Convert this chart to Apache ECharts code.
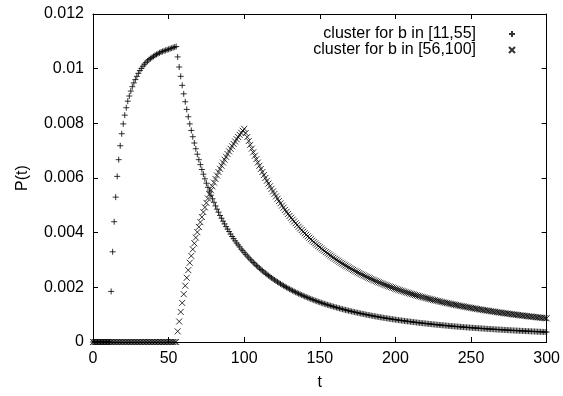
<!DOCTYPE html>
<html><head><meta charset="utf-8">
<script src="https://cdn.jsdelivr.net/npm/echarts@6/dist/echarts.min.js"></script>
<style>html,body{margin:0;padding:0;background:#fff}#c{width:563px;height:396px}</style>
</head><body><div id="c"></div>
<script>
const seriesNames = ['cluster for b in [11,55]', 'cluster for b in [56,100]'];
const xTickValues = [0, 50, 100, 150, 200, 250, 300];
const yTickValues = [0, 0.002, 0.004, 0.006, 0.008, 0.01, 0.012];
const xLabel = 't';
const yLabel = 'P(t)';

// P(t) for cluster b in [11,55], t = 0..300 (one value per integer t)
const plusValues = [
  0,0,0,0,0,0,0,0,0,0,                                   // 0-9
  0,0,0.00185,0.0033,0.0044,0.0053,0.00606,0.00667,0.00718,0.00762, // 10-19
  0.00798,0.0083,0.00857,0.00881,0.009,0.00918,0.00934,0.00948,0.0096,0.00972, // 20-29
  0.00983,0.00993,0.01001,0.01009,0.01016,0.01022,0.01028,0.01033,0.01037,0.01041, // 30-39
  0.01045,0.01049,0.01052,0.01055,0.01058,0.01061,0.01063,0.01065,0.01067,0.01069, // 40-49
  0.01071,0.01073,0.01075,0.01077,0.01079,0.01081,0.01043,0.01006,0.00972,0.00939, // 50-59
  0.00908,0.00879,0.00851,0.00824,0.00798,0.00774,0.00751,0.00728,0.00707,0.00687, // 60-69
  0.00667,0.00649,0.00631,0.00614,0.00597,0.00581,0.00566,0.00552,0.00537,0.00524, // 70-79
  0.00511,0.00498,0.00486,0.00475,0.00463,0.00453,0.00442,0.00432,0.00422,0.00413, // 80-89
  0.00404,0.00395,0.00386,0.00378,0.0037,0.00362,0.00355,0.00348,0.0034,0.00334,   // 90-99
  0.00327,0.003206,0.003143,0.003082,0.003023,0.002966,0.00291,0.002856,0.002804,0.002752, // 100-109
  0.002703,0.002654,0.002607,0.002561,0.002516,0.002473,0.00243,0.002389,0.002348,0.002309, // 110-119
  0.002271,0.002233,0.002197,0.002161,0.002127,0.002093,0.00206,0.002027,0.001996,0.001965, // 120-129
  0.001935,0.001906,0.001877,0.001849,0.001821,0.001794,0.001768,0.001742,0.001717,0.001693, // 130-139
  0.001668,0.001645,0.001622,0.001599,0.001577,0.001555,0.001534,0.001513,0.001493,0.001473, // 140-149
  0.001453,0.001434,0.001415,0.001397,0.001379,0.001361,0.001344,0.001327,0.00131,0.001294, // 150-159
  0.001277,0.001262,0.001246,0.001231,0.001216,0.001201,0.001187,0.001173,0.001159,0.001145, // 160-169
  0.001132,0.001118,0.001105,0.001093,0.00108,0.001068,0.001056,0.001044,0.001032,0.001021, // 170-179
  0.001009,0.000998,0.000987,0.000977,0.000966,0.000955,0.000945,0.000935,0.000925,0.000915, // 180-189
  0.000906,0.000896,0.000887,0.000878,0.000869,0.00086,0.000851,0.000843,0.000834,0.000826, // 190-199
  0.000818,0.000809,0.000801,0.000794,0.000786,0.000778,0.000771,0.000763,0.000756,0.000749, // 200-209
  0.000742,0.000735,0.000728,0.000721,0.000714,0.000707,0.000701,0.000694,0.000688,0.000682, // 210-219
  0.000676,0.00067,0.000664,0.000658,0.000652,0.000646,0.00064,0.000635,0.000629,0.000624, // 220-229
  0.000618,0.000613,0.000608,0.000602,0.000597,0.000592,0.000587,0.000582,0.000577,0.000573, // 230-239
  0.000568,0.000563,0.000558,0.000554,0.000549,0.000545,0.00054,0.000536,0.000532,0.000527, // 240-249
  0.000523,0.000519,0.000515,0.000511,0.000507,0.000503,0.000499,0.000495,0.000491,0.000488, // 250-259
  0.000484,0.00048,0.000476,0.000473,0.000469,0.000466,0.000462,0.000459,0.000455,0.000452, // 260-269
  0.000449,0.000445,0.000442,0.000439,0.000436,0.000432,0.000429,0.000426,0.000423,0.00042, // 270-279
  0.000417,0.000414,0.000411,0.000408,0.000405,0.000403,0.0004,0.000397,0.000394,0.000392, // 280-289
  0.000389,0.000386,0.000384,0.000381,0.000378,0.000376,0.000373,0.000371,0.000368,0.000366, // 290-299
  0.000363 // 300
];

// P(t) for cluster b in [56,100], t = 0..300
const crossValues = [
  0,0,0,0,0,0,0,0,0,0, 0,0,0,0,0,0,0,0,0,0,             // 0-19
  0,0,0,0,0,0,0,0,0,0, 0,0,0,0,0,0,0,0,0,0,             // 20-39
  0,0,0,0,0,0,0,0,0,0, 0,0,0,0,0,0,0.00039,0.00075,0.0011,0.00143, // 40-59
  0.00175,0.00206,0.00235,0.00263,0.0029,0.00315,0.00339,0.00361,0.00382,0.00402, // 60-69
  0.00421,0.004385,0.004572,0.004752,0.004925,0.00509,0.00525,0.005405,0.005552,0.005695, // 70-79
  0.005833,0.005965,0.006093,0.006217,0.006336,0.006451,0.006563,0.00667,0.006775,0.006876, // 80-89
  0.006973,0.007068,0.00716,0.007248,0.007335,0.007419,0.007499,0.007578,0.007655,0.007729, // 90-99
  0.0078,0.007646,0.007497,0.007352,0.007212,0.007075,0.006942,0.006813,0.006687,0.006565, // 100-109
  0.006446,0.006331,0.006218,0.006109,0.006002,0.005898,0.005797,0.005698,0.005602,0.005508, // 110-119
  0.005417,0.005328,0.005241,0.005156,0.005073,0.004992,0.004913,0.004836,0.004761,0.004687, // 120-129
  0.004615,0.004545,0.004477,0.00441,0.004344,0.00428,0.004217,0.004156,0.004096,0.004037, // 130-139
  0.00398,0.003923,0.003868,0.003814,0.003762,0.00371,0.003659,0.00361,0.003561,0.003513, // 140-149
  0.003467,0.003421,0.003376,0.003332,0.003289,0.003247,0.003205,0.003165,0.003125,0.003085, // 150-159
  0.003047,0.003009,0.002972,0.002936,0.0029,0.002865,0.002831,0.002797,0.002764,0.002731, // 160-169
  0.002699,0.002668,0.002637,0.002606,0.002576,0.002547,0.002518,0.00249,0.002462,0.002434, // 170-179
  0.002407,0.002381,0.002355,0.002329,0.002304,0.002279,0.002255,0.002231,0.002207,0.002184, // 180-189
  0.002161,0.002138,0.002116,0.002094,0.002073,0.002051,0.00203,0.00201,0.00199,0.00197, // 190-199
  0.00195,0.001931,0.001912,0.001893,0.001874,0.001856,0.001838,0.00182,0.001803,0.001786, // 200-209
  0.001769,0.001752,0.001736,0.001719,0.001703,0.001687,0.001672,0.001656,0.001641,0.001626, // 210-219
  0.001612,0.001597,0.001583,0.001569,0.001555,0.001541,0.001527,0.001514,0.001501,0.001487, // 220-229
  0.001475,0.001462,0.001449,0.001437,0.001425,0.001412,0.001401,0.001389,0.001377,0.001366, // 230-239
  0.001354,0.001343,0.001332,0.001321,0.00131,0.0013,0.001289,0.001279,0.001268,0.001258, // 240-249
  0.001248,0.001238,0.001228,0.001219,0.001209,0.0012,0.00119,0.001181,0.001172,0.001163, // 250-259
  0.001154,0.001145,0.001136,0.001128,0.001119,0.001111,0.001102,0.001094,0.001086,0.001078, // 260-269
  0.00107,0.001062,0.001054,0.001047,0.001039,0.001031,0.001024,0.001017,0.001009,0.001002, // 270-279
  0.000995,0.000988,0.000981,0.000974,0.000967,0.00096,0.000954,0.000947,0.00094,0.000934, // 280-289
  0.000928,0.000921,0.000915,0.000909,0.000902,0.000896,0.00089,0.000884,0.000878,0.000872, // 290-299
  0.000867 // 300
];

const FONT = 'Liberation Sans, Arial, Helvetica, sans-serif';
const PLUS = 'path://M0,5L10,5M5,0L5,10';
const CROSS = 'path://M0,0L10,10M10,0L0,10';

function toPoints(vals) { return vals.map((v, t) => [t, v]); }

const chart = echarts.init(document.getElementById('c'), null, {renderer: 'canvas'});
const axisCommon = {
  type: 'value',
  axisLine: {show: true, onZero: false, lineStyle: {color: '#000', width: 1}},
  axisTick: {show: true, inside: true, length: 5, lineStyle: {color: '#000', width: 1}},
  splitLine: {show: false}
};
chart.setOption({
  animation: false,
  backgroundColor: '#fff',
  grid: {left: 93, right: 13, top: 14, bottom: 46, containLabel: false},
  legend: {
    orient: 'vertical', right: 42, top: 21, align: 'right',
    itemWidth: 6, itemHeight: 6, itemGap: 0,
    textStyle: {color: '#000', fontSize: 16, fontFamily: FONT, lineHeight: 14, padding: [0, 28, 0, 0]},
    data: seriesNames
  },
  xAxis: [
    Object.assign({}, axisCommon, {
      position: 'bottom', min: xTickValues[0], max: xTickValues[xTickValues.length - 1],
      interval: xTickValues[1] - xTickValues[0],
      axisLabel: {color: '#000', fontSize: 16, fontFamily: FONT, margin: 9},
      name: xLabel, nameLocation: 'middle', nameGap: 33,
      nameTextStyle: {color: '#000', fontSize: 16, fontFamily: FONT}
    }),
    Object.assign({}, axisCommon, {
      position: 'top', min: xTickValues[0], max: xTickValues[xTickValues.length - 1],
      interval: xTickValues[1] - xTickValues[0], axisLabel: {show: false}
    })
  ],
  yAxis: [
    Object.assign({}, axisCommon, {
      position: 'left', min: yTickValues[0], max: yTickValues[yTickValues.length - 1],
      interval: yTickValues[1] - yTickValues[0],
      axisLabel: {color: '#000', fontSize: 16, fontFamily: FONT, margin: 9,
        formatter: v => String(+v.toFixed(3))},
      name: yLabel, nameLocation: 'middle', nameGap: 62, nameRotate: 90,
      nameTextStyle: {color: '#000', fontSize: 16, fontFamily: FONT}
    }),
    Object.assign({}, axisCommon, {
      position: 'right', min: yTickValues[0], max: yTickValues[yTickValues.length - 1],
      interval: yTickValues[1] - yTickValues[0], axisLabel: {show: false}
    })
  ],
  series: [
    {
      name: seriesNames[0], type: 'scatter', xAxisIndex: 0, yAxisIndex: 0,
      symbol: PLUS, symbolSize: 6,
      itemStyle: {color: 'rgba(0,0,0,0)', borderColor: '#000', borderWidth: 1},
      data: toPoints(plusValues)
    },
    {
      name: seriesNames[1], type: 'scatter', xAxisIndex: 0, yAxisIndex: 0,
      symbol: CROSS, symbolSize: 6,
      itemStyle: {color: 'rgba(0,0,0,0)', borderColor: '#000', borderWidth: 1},
      data: toPoints(crossValues)
    }
  ]
});
</script>
</body></html>
